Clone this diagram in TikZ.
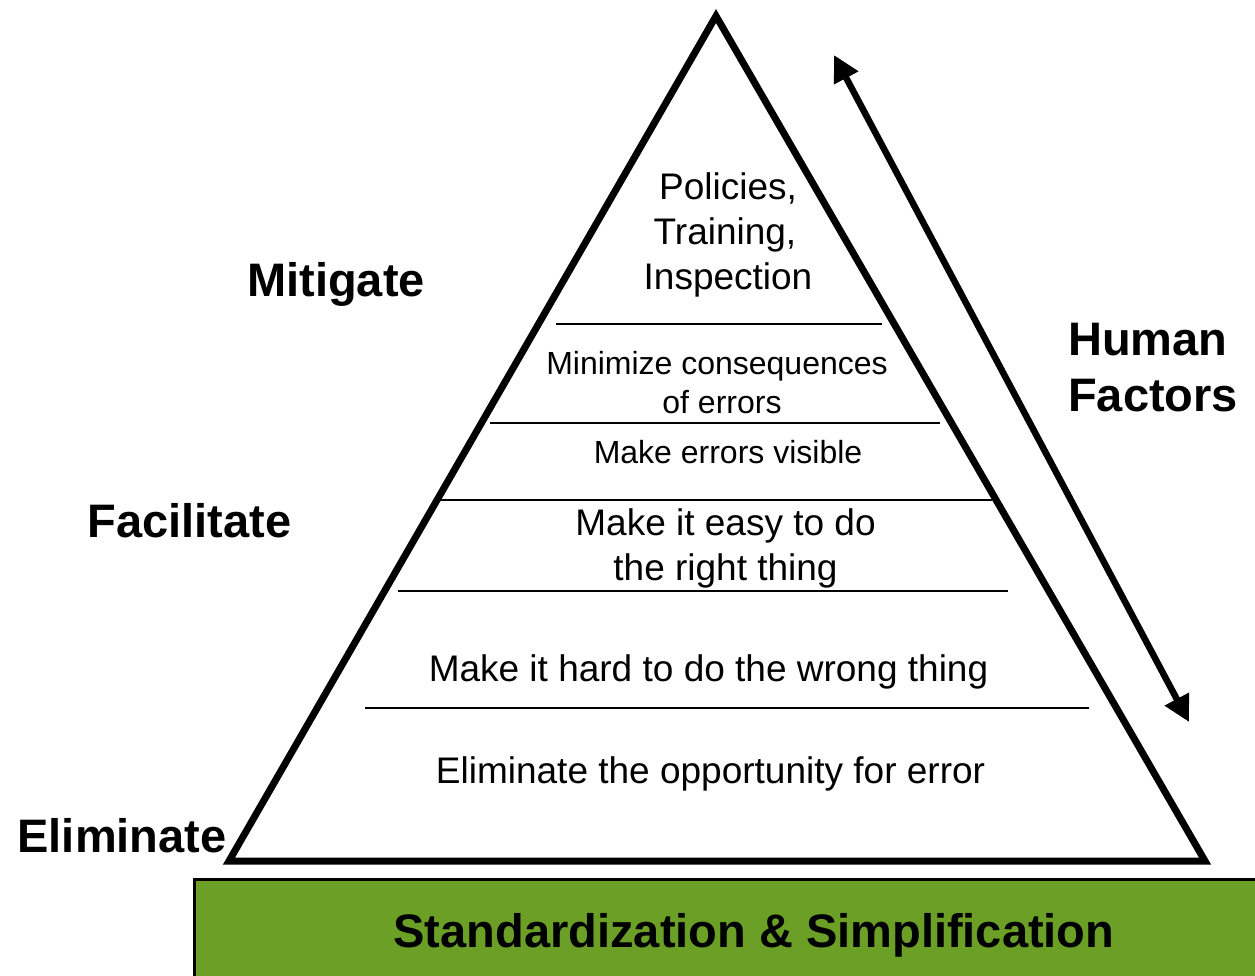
\documentclass[tikz,border=0pt]{standalone}
\usepackage{fontspec}
\setmainfont{Liberation Sans}
\usetikzlibrary{arrows.meta}
\definecolor{basegreen}{RGB}{107,159,37}
\tikzset{
  layertxt/.style={anchor=base, inner sep=0pt, font=\fontsize{37}{44}\selectfont},
  smalltxt/.style={anchor=base, inner sep=0pt, font=\fontsize{32}{38}\selectfont},
  sidetxt/.style={anchor=base, inner sep=0pt, font=\fontsize{47}{56}\selectfont\bfseries},
  divider/.style={line width=2pt},
  pyramid/.style={line width=7pt, line join=miter, fill=white},
  bigarrow/.style={line width=6.5pt, {Triangle[length=26pt,width=26pt]}-{Triangle[length=26pt,width=26pt]}}
}
\begin{document}
\begin{tikzpicture}[x=1pt,y=-1pt]
\useasboundingbox (0,0) rectangle (1255,976);
\clip (0,0) rectangle (1255,976);
% base bar
\node[draw=black, line width=2.5pt, fill=basegreen, anchor=north west, minimum width=1070pt, minimum height=105pt, inner sep=0pt] (base) at (193,878) {};
\node[sidetxt] (std) at (754,947) {Standardization \& Simplification};
% pyramid
\coordinate (apex) at (716,16);
\coordinate (bl) at (229,861);
\coordinate (br) at (1205,861);
\draw[pyramid] (apex) -- (bl) -- (br) -- cycle;
% dividers
\coordinate (d1a) at (556,324); \coordinate (d1b) at (882,324);
\coordinate (d2a) at (490,423); \coordinate (d2b) at (940,423);
\coordinate (d3a) at (437,500); \coordinate (d3b) at (992,500);
\coordinate (d4a) at (398,591); \coordinate (d4b) at (1008,591);
\coordinate (d5a) at (365,708); \coordinate (d5b) at (1089,708);
\draw[divider] (d1a) -- (d1b);
\draw[divider] (d2a) -- (d2b);
\draw[divider] (d3a) -- (d3b);
\draw[divider] (d4a) -- (d4b);
\draw[divider] (d5a) -- (d5b);
% layer texts
\node[layertxt] (p1) at (728,200) {Policies,};
\node[layertxt] (p2) at (725,245) {Training,};
\node[layertxt] (p3) at (728,289) {Inspection};
\node[smalltxt] (m1) at (717,374) {Minimize consequences};
\node[smalltxt] (m2) at (722,413) {of errors};
\node[smalltxt] (v1) at (728,463) {Make errors visible};
\node[layertxt] (e1) at (725.5,535) {Make it easy to do};
\node[layertxt] (e2) at (725.5,580) {the right thing};
\node[layertxt] (h1) at (708.5,681) {Make it hard to do the wrong thing};
\node[layertxt] (o1) at (710.5,783) {Eliminate the opportunity for error};
% side labels
\node[sidetxt] (mit) at (336,296) {Mitigate};
\node[sidetxt] (fac) at (189.5,537) {Facilitate};
\node[sidetxt] (eli) at (122,852) {Eliminate};
\node[sidetxt, anchor=base west] (hum) at (1068,355) {Human};
\node[sidetxt, anchor=base west] (fct) at (1068,411) {Factors};
% arrow
\coordinate (atop) at (834,55);
\coordinate (abot) at (1189,722);
\draw[bigarrow] (atop) -- (abot);
\end{tikzpicture}
\end{document}
